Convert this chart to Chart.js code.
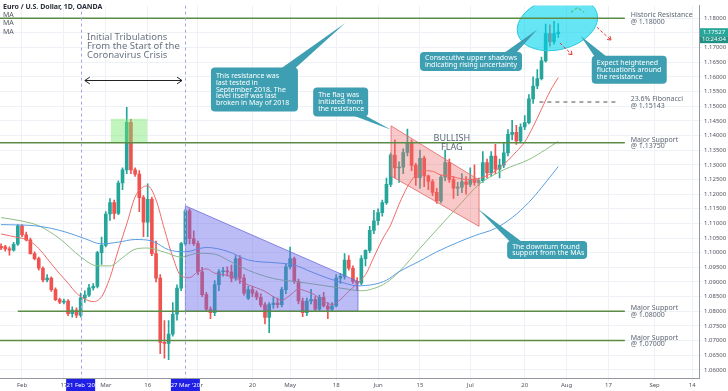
<!DOCTYPE html>
<html>
<head>
<meta charset="utf-8">
<script src="https://cdn.jsdelivr.net/npm/chart.js@4.4.1/dist/chart.umd.min.js"></script>
<style>
  html, body { margin: 0; padding: 0; background: #fff; }
  canvas { display: block; }
</style>
</head>
<body>
<canvas id="chart" width="728" height="391"></canvas>
<script>
// EUR/USD daily candles. Bar 0 = Mon 3 Feb 2020, one bar per trading day
const firstDay = -5;

const opens = [
  1.1022, 1.1020, 1.1013, 1.1009, 1.1029, 1.1092, 1.1061, 1.1044, 1.0997, 1.0980,
  1.0947, 1.0907, 1.0913, 1.0874, 1.0840, 1.0831, 1.0835, 1.0792, 1.0804, 1.0787,
  1.0846, 1.0855, 1.0880, 1.0885, 1.1000, 1.1025, 1.1132, 1.1171, 1.1134, 1.1238,
  1.1283, 1.1445, 1.1283, 1.1268, 1.1188, 1.1104, 1.1182, 1.0997, 1.0913, 1.0694,
  1.0690, 1.0722, 1.0790, 1.0879, 1.1031, 1.1143, 1.1048, 1.1031, 1.0935, 1.0857,
  1.0807, 1.0795, 1.0891, 1.0935, 1.0938, 1.0934, 1.0913, 1.0980, 1.0913, 1.0845,
  1.0874, 1.0862, 1.0848, 1.0822, 1.0779, 1.0823, 1.0828, 1.0823, 1.0874, 1.0952,
  1.0980, 1.0902, 1.0835, 1.0795, 1.0835, 1.0840, 1.0807, 1.0848, 1.0818, 1.0807,
  1.0818, 1.0913, 1.0919, 1.0975, 1.0947, 1.0902, 1.0896, 1.0980, 1.1008, 1.1076,
  1.1109, 1.1137, 1.1171, 1.1233, 1.1333, 1.1289, 1.1292, 1.1342, 1.1375, 1.1298,
  1.1256, 1.1322, 1.1262, 1.1243, 1.1206, 1.1177, 1.1258, 1.1308, 1.1250, 1.1220,
  1.1224, 1.1242, 1.1233, 1.1251, 1.1240, 1.1246, 1.1308, 1.1272, 1.1330, 1.1285,
  1.1299, 1.1341, 1.1404, 1.1411, 1.1382, 1.1429, 1.1444, 1.1525, 1.1569, 1.1594,
  1.1655, 1.1748, 1.1720, 1.1748
];
const highs = [
  1.1030, 1.1025, 1.1020, 1.1035, 1.1096, 1.1096, 1.1070, 1.1050, 1.1003, 1.0985,
  1.0952, 1.0925, 1.0918, 1.0880, 1.0845, 1.0842, 1.0840, 1.0815, 1.0812, 1.0862,
  1.0870, 1.0892, 1.0895, 1.1005, 1.1053, 1.1140, 1.1185, 1.1180, 1.1245, 1.1290,
  1.1496, 1.1455, 1.1290, 1.1280, 1.1195, 1.1235, 1.1190, 1.1040, 1.0925, 1.0768,
  1.0768, 1.0830, 1.0890, 1.1035, 1.1148, 1.1150, 1.1075, 1.1040, 1.0950, 1.0865,
  1.0815, 1.0905, 1.0942, 1.0950, 1.0952, 1.0958, 1.0990, 1.0990, 1.0925, 1.0885,
  1.0885, 1.0870, 1.0860, 1.0830, 1.0830, 1.0850, 1.0845, 1.0882, 1.0960, 1.1019,
  1.0985, 1.0910, 1.0845, 1.0845, 1.0875, 1.0850, 1.0855, 1.0865, 1.0830, 1.0830,
  1.0925, 1.0930, 1.0997, 1.0990, 1.0955, 1.0915, 1.0990, 1.1010, 1.1090, 1.1145,
  1.1150, 1.1180, 1.1255, 1.1340, 1.1385, 1.1310, 1.1355, 1.1422, 1.1385, 1.1305,
  1.1350, 1.1330, 1.1265, 1.1250, 1.1220, 1.1265, 1.1350, 1.1320, 1.1260, 1.1240,
  1.1270, 1.1260, 1.1290, 1.1300, 1.1255, 1.1345, 1.1320, 1.1345, 1.1370, 1.1320,
  1.1375, 1.1420, 1.1452, 1.1435, 1.1440, 1.1468, 1.1540, 1.1600, 1.1625, 1.1668,
  1.1780, 1.1778, 1.1790, 1.1782
];
const lows = [
  1.1010, 1.1005, 1.0992, 1.1005, 1.1025, 1.1055, 1.1040, 1.0995, 1.0975, 1.0940,
  1.0900, 1.0900, 1.0868, 1.0836, 1.0826, 1.0825, 1.0785, 1.0780, 1.0778, 1.0780,
  1.0830, 1.0850, 1.0872, 1.0880, 1.0960, 1.1020, 1.1110, 1.1115, 1.1130, 1.1215,
  1.1270, 1.1270, 1.1260, 1.1140, 1.1055, 1.1055, 1.0990, 1.0900, 1.0655, 1.0640,
  1.0635, 1.0715, 1.0770, 1.0870, 1.1025, 1.1030, 1.1025, 1.0925, 1.0850, 1.0800,
  1.0775, 1.0785, 1.0870, 1.0920, 1.0920, 1.0900, 1.0905, 1.0895, 1.0855, 1.0840,
  1.0850, 1.0840, 1.0815, 1.0757, 1.0727, 1.0810, 1.0812, 1.0815, 1.0860, 1.0945,
  1.0895, 1.0825, 1.0782, 1.0785, 1.0825, 1.0800, 1.0800, 1.0815, 1.0775, 1.0800,
  1.0815, 1.0895, 1.0910, 1.0940, 1.0895, 1.0870, 1.0890, 1.0955, 1.1000, 1.1065,
  1.1095, 1.1125, 1.1165, 1.1225, 1.1255, 1.1240, 1.1270, 1.1330, 1.1280, 1.1230,
  1.1220, 1.1225, 1.1215, 1.1195, 1.1168, 1.1170, 1.1245, 1.1240, 1.1185, 1.1195,
  1.1205, 1.1200, 1.1225, 1.1230, 1.1230, 1.1240, 1.1255, 1.1260, 1.1270, 1.1255,
  1.1290, 1.1330, 1.1385, 1.1370, 1.1375, 1.1420, 1.1440, 1.1510, 1.1560, 1.1590,
  1.1650, 1.1705, 1.1712, 1.1735
];
const closes = [
  1.1016, 1.1013, 1.1009, 1.1029, 1.1092, 1.1061, 1.1044, 1.0997, 1.0980, 1.0947,
  1.0907, 1.0913, 1.0874, 1.0840, 1.0831, 1.0835, 1.0792, 1.0804, 1.0787, 1.0846,
  1.0855, 1.0880, 1.0885, 1.1000, 1.1025, 1.1132, 1.1171, 1.1134, 1.1238, 1.1283,
  1.1445, 1.1283, 1.1268, 1.1188, 1.1104, 1.1182, 1.0997, 1.0913, 1.0694, 1.0690,
  1.0722, 1.0790, 1.0879, 1.1031, 1.1143, 1.1048, 1.1031, 1.0935, 1.0857, 1.0807,
  1.0795, 1.0891, 1.0935, 1.0938, 1.0934, 1.0913, 1.0980, 1.0913, 1.0862, 1.0874,
  1.0862, 1.0848, 1.0822, 1.0779, 1.0823, 1.0828, 1.0823, 1.0874, 1.0952, 1.0980,
  1.0902, 1.0835, 1.0795, 1.0835, 1.0840, 1.0807, 1.0848, 1.0818, 1.0807, 1.0818,
  1.0913, 1.0919, 1.0975, 1.0947, 1.0902, 1.0896, 1.0980, 1.1008, 1.1076, 1.1109,
  1.1137, 1.1171, 1.1233, 1.1333, 1.1289, 1.1292, 1.1342, 1.1375, 1.1298, 1.1256,
  1.1322, 1.1262, 1.1243, 1.1206, 1.1177, 1.1258, 1.1308, 1.1250, 1.1220, 1.1224,
  1.1242, 1.1233, 1.1251, 1.1240, 1.1246, 1.1308, 1.1272, 1.1330, 1.1285, 1.1299,
  1.1341, 1.1404, 1.1411, 1.1382, 1.1429, 1.1444, 1.1525, 1.1569, 1.1594, 1.1655,
  1.1748, 1.1720, 1.1748, 1.1753
];

// moving averages at these bars
const redMaDays = [-5, -3, -1, 1, 3, 5, 7, 9, 11, 13, 15, 17, 19, 21, 23, 25, 27, 29, 30, 32,
  34, 36, 38, 40, 42, 44, 46, 48, 50, 52, 54, 56, 58, 60, 62, 64, 66, 68, 70, 72,
  74, 76, 78, 80, 82, 84, 86, 88, 90, 92, 94, 96, 98, 100, 102, 104, 106, 108, 110, 112,
  114, 116, 118, 120, 122, 124, 126, 128];
const redMa = [1.1064, 1.1058, 1.1052, 1.1045, 1.1028, 1.0998, 1.0962, 1.0928, 1.0896, 1.0862,
  1.0842, 1.0833, 1.0850, 1.0915, 1.1010, 1.1098, 1.1190, 1.1225, 1.1228, 1.1180,
  1.1080, 1.0985, 1.0920, 1.0915, 1.0935, 1.0945, 1.0930, 1.0925, 1.0920, 1.0905,
  1.0890, 1.0880, 1.0868, 1.0850, 1.0838, 1.0855, 1.0875, 1.0868, 1.0855, 1.0835,
  1.0823, 1.0840, 1.0868, 1.0895, 1.0925, 1.0985, 1.1045, 1.1095, 1.1165, 1.1225,
  1.1265, 1.1280, 1.1278, 1.1265, 1.1262, 1.1255, 1.1250, 1.1250, 1.1258, 1.1270,
  1.1290, 1.1315, 1.1345, 1.1378, 1.1430, 1.1490, 1.1550, 1.1598];

const greenMaDays = [-5, 0, 4, 9, 14, 18, 21, 24, 27, 30, 34, 38, 42, 46, 50, 54, 60, 66, 72, 78,
  81, 84, 87, 90, 95, 101, 105, 109, 115, 121, 125, 128];
const greenMa = [1.1120, 1.1108, 1.1092, 1.1048, 1.0986, 1.0955, 1.0955, 1.0983, 1.1012, 1.1016,
  1.1002, 1.0985, 1.0998, 1.0995, 1.0968, 1.0940, 1.0912, 1.0900, 1.0888, 1.0875,
  1.0870, 1.0878, 1.0898, 1.0935, 1.1015, 1.1110, 1.1172, 1.1232, 1.1283, 1.1318,
  1.1352, 1.1380];

const blueMaDays = [-5, 3, 7, 11, 15, 19, 23, 27, 31, 35, 39, 44, 49, 54, 61, 65, 69, 73, 77, 80,
  84, 87, 90, 95, 99, 104, 108, 113, 117, 121, 124, 128];
const blueMa = [1.1096, 1.1092, 1.1083, 1.1068, 1.1048, 1.1030, 1.1036, 1.1045, 1.1040, 1.1010,
  1.1003, 1.1018, 1.1005, 1.0975, 1.0965, 1.0958, 1.0935, 1.0913, 1.0896, 1.0887,
  1.0892, 1.0906, 1.0935, 1.0972, 1.1003, 1.1035, 1.1058, 1.1083, 1.1120, 1.1172,
  1.1222, 1.1294];

const xTickDays = [0, 10, 20, 30, 42, 55, 64, 75, 85, 95, 107, 120, 130, 140, 151, 160];
const xTickLabels = ['Feb', '17', 'Mar', '16', 'Apr', '20', 'May', '18', 'Jun', '15', 'Jul', '20', 'Aug', '17', 'Sep', '14'];
const yTicks = [1.060, 1.065, 1.070, 1.075, 1.080, 1.085, 1.090, 1.095, 1.100, 1.105, 1.110, 1.115,
  1.120, 1.125, 1.130, 1.135, 1.140, 1.145, 1.150, 1.155, 1.160, 1.165, 1.170, 1.175, 1.180];

const lastPrice = 1.17527;

const UP = '#26a69a';
const DOWN = '#ef5350';
const FONT = '"Noto Sans", "DejaVu Sans", sans-serif';

const candleColors = opens.map((o, k) => closes[k] >= o ? UP : DOWN);
const wicks = highs.map((h, k) => ({ x: firstDay + k, y: [lows[k], h] }));
const bodies = opens.map((o, k) => ({ x: firstDay + k, y: [o, closes[k]] }));
const points = (days, vals) => days.map((d, k) => ({ x: d, y: vals[k] }));

// drawings on top of the chart
const levels = [
  { price: 1.18, from: -6, lines: ['Historic Resistance', '@ 1.18000'] },
  { price: 1.1375, from: -6, lines: ['Major Support', '@ 1.13750'] },
  { price: 1.08, from: -1, lines: ['Major Support', '@ 1.08000'] },
  { price: 1.07, from: -6, lines: ['Major Support', '@ 1.07000'] }
];

const callouts = [
  { day: 45.1, price: 1.1632, w: 87, h: 44, edge: 'top', at: [70, 84], tip: [77.1, 1.1783],
    lines: ['This resistance was', 'last tested in', 'September 2018. The', 'level itself was last', 'broken in May of 2018'] },
  { day: 69.5, price: 1.1564, w: 55, h: 29, edge: 'bottom', at: [40, 52], tip: [88.1, 1.1420],
    lines: ['The flag was', 'initiated from', 'the resistance'] },
  { day: 95, price: 1.1685, w: 102, h: 19, edge: 'top', at: [84, 96], tip: [123, 1.1762],
    lines: ['Consecutive upper shadows', 'indicating rising uncertainty'] },
  { day: 136, price: 1.1672, w: 75, h: 28, edge: 'top', at: [3, 15], tip: [133.4, 1.1739],
    lines: ['Expect heightened', 'fluctuations around', 'the resistance'] },
  { day: 115.8, price: 1.1040, w: 80, h: 18, edge: 'top', at: [3, 15], tip: [108.8, 1.1150],
    lines: ['The downturn found', 'support from the MAs'] }
];

function arrowHead(ctx, x1, y1, x2, y2, size) {
  const a = Math.atan2(y2 - y1, x2 - x1);
  ctx.beginPath();
  ctx.moveTo(x2 - size * Math.cos(a - 0.6), y2 - size * Math.sin(a - 0.6));
  ctx.lineTo(x2, y2);
  ctx.lineTo(x2 - size * Math.cos(a + 0.6), y2 - size * Math.sin(a + 0.6));
  ctx.stroke();
}

const notes = {
  id: 'notes',
  afterDraw(chart) {
    const { ctx, chartArea: area, scales } = chart;
    const X = v => scales.x.getPixelForValue(v);
    const Y = v => scales.y.getPixelForValue(v);

    ctx.save();
    ctx.beginPath();
    ctx.rect(area.left, area.top, area.width, area.height);
    ctx.clip();

    // descending triangle
    ctx.beginPath();
    ctx.moveTo(X(39), Y(1.1160));
    ctx.lineTo(X(80.2), Y(1.0902));
    ctx.lineTo(X(80.2), Y(1.0800));
    ctx.lineTo(X(39), Y(1.0800));
    ctx.closePath();
    ctx.fillStyle = 'rgba(104, 104, 232, 0.45)';
    ctx.fill();
    ctx.strokeStyle = 'rgba(110, 110, 220, 0.8)';
    ctx.lineWidth = 1;
    ctx.stroke();

    // bullish flag channel
    ctx.beginPath();
    ctx.moveTo(X(88.1), Y(1.1433));
    ctx.lineTo(X(109.1), Y(1.1248));
    ctx.lineTo(X(109.1), Y(1.1090));
    ctx.lineTo(X(88.1), Y(1.1262));
    ctx.closePath();
    ctx.fillStyle = 'rgba(240, 110, 110, 0.38)';
    ctx.fill();
    ctx.strokeStyle = 'rgba(229, 115, 115, 0.9)';
    ctx.stroke();

    // March top highlight
    ctx.fillStyle = 'rgba(120, 232, 110, 0.45)';
    ctx.fillRect(X(21.2), Y(1.1457), X(29.9) - X(21.2), Y(1.1375) - Y(1.1457));

    // ellipse round the last candles
    ctx.beginPath();
    ctx.ellipse(X(127.8), Y(1.1782), 41, 26, -0.25, 0, Math.PI * 2);
    ctx.fillStyle = 'rgba(0, 212, 238, 0.6)';
    ctx.fill();
    ctx.strokeStyle = '#2cc9dc';
    ctx.stroke();

    // price levels
    ctx.strokeStyle = '#5b8c46';
    ctx.lineWidth = 1.5;
    levels.forEach(l => {
      ctx.beginPath();
      ctx.moveTo(X(l.from), Y(l.price));
      ctx.lineTo(X(143.9), Y(l.price));
      ctx.stroke();
    });

    // fibonacci level
    ctx.strokeStyle = '#8a8a8a';
    ctx.setLineDash([4, 4]);
    ctx.beginPath();
    ctx.moveTo(X(123.5), Y(1.15143));
    ctx.lineTo(X(142.6), Y(1.15143));
    ctx.stroke();

    // red dashed arrows out of the ellipse
    ctx.strokeStyle = '#e53935';
    ctx.lineWidth = 1;
    ctx.setLineDash([3, 2]);
    [[128.4, 1.1716, 131.3, 1.1676], [137.2, 1.1770, 140.6, 1.1726]].forEach(a => {
      ctx.beginPath();
      ctx.moveTo(X(a[0]), Y(a[1]));
      ctx.lineTo(X(a[2]), Y(a[3]));
      ctx.stroke();
      ctx.setLineDash([]);
      arrowHead(ctx, X(a[0]), Y(a[1]), X(a[2]), Y(a[3]), 4);
      ctx.setLineDash([3, 2]);
    });
    ctx.strokeStyle = '#4caf50';
    ctx.beginPath();
    ctx.moveTo(X(131), Y(1.1820));
    ctx.lineTo(X(132.6), Y(1.1837));
    ctx.lineTo(X(134.2), Y(1.1820));
    ctx.stroke();

    // date markers
    ctx.strokeStyle = '#a3a3e6';
    ctx.setLineDash([3, 3]);
    [14, 39].forEach(d => {
      ctx.beginPath();
      ctx.moveTo(Math.round(X(d)) + 0.5, area.top);
      ctx.lineTo(Math.round(X(d)) + 0.5, area.bottom);
      ctx.stroke();
    });
    ctx.setLineDash([]);
    ctx.restore();

    ctx.save();
    ctx.textBaseline = 'middle';

    // double arrow over the crisis period
    const ay = Math.round(Y(1.1591)) + 0.5;
    ctx.strokeStyle = '#222';
    ctx.lineWidth = 1;
    ctx.beginPath();
    ctx.moveTo(X(15), ay);
    ctx.lineTo(X(38.2), ay);
    ctx.stroke();
    arrowHead(ctx, X(16), ay, X(15), ay, 6);
    arrowHead(ctx, X(37), ay, X(38.2), ay, 6);

    ctx.fillStyle = '#6a7482';
    ctx.font = '9.5px ' + FONT;
    ['Initial Tribulations', 'From the Start of the', 'Coronavirus Crisis'].forEach((t, k) => {
      ctx.fillText(t, X(15.5), Y(1.1737) + k * 9.3);
    });

    ctx.fillStyle = '#5b6675';
    ctx.font = '9px ' + FONT;
    ctx.textAlign = 'center';
    ctx.fillText('BULLISH', X(102.6), Y(1.1389));
    ctx.fillText('FLAG', X(102.6), Y(1.1389) + 9);
    ctx.textAlign = 'left';

    // level labels
    ctx.fillStyle = '#5d6673';
    ctx.font = '7px ' + FONT;
    levels.concat([{ price: 1.15143, lines: ['23.6% Fibonacci', '@ 1.15143'] }]).forEach(l => {
      ctx.fillText(l.lines[0], X(145.3), Y(l.price) - 3);
      ctx.fillText(l.lines[1], X(145.3), Y(l.price) + 3.5);
    });

    // callouts
    callouts.forEach(c => {
      const left = X(c.day), top = Y(c.price);
      const ey = c.edge === 'top' ? top + 1 : top + c.h - 1;
      ctx.fillStyle = '#3d9fb1';
      ctx.beginPath();
      ctx.moveTo(left + c.at[0], ey);
      ctx.lineTo(X(c.tip[0]), Y(c.tip[1]));
      ctx.lineTo(left + c.at[1], ey);
      ctx.closePath();
      ctx.fill();
      ctx.beginPath();
      ctx.roundRect(left, top, c.w, c.h, 4);
      ctx.fill();
      ctx.fillStyle = '#fff';
      ctx.font = '7px ' + FONT;
      const step = 6.7;
      const y0 = top + (c.h - c.lines.length * step) / 2 + step / 2;
      c.lines.forEach((t, k) => ctx.fillText(t, left + 5, y0 + k * step));
    });

    // axis date boxes
    ctx.font = '6px ' + FONT;
    ctx.textAlign = 'center';
    [[14, "21 Feb '20"], [39, "27 Mar '20"]].forEach(([d, t]) => {
      ctx.fillStyle = '#1f1fe6';
      ctx.fillRect(X(d) - 14.5, area.bottom + 1, 29, 12);
      ctx.fillStyle = '#fff';
      ctx.fillText(t, X(d), area.bottom + 7);
    });

    // last price tag
    const py = Y(lastPrice);
    ctx.fillStyle = '#26a69a';
    ctx.fillRect(area.right + 1, py - 4, 28, 8);
    ctx.fillStyle = '#1f9184';
    ctx.fillRect(area.right + 1, py + 4, 28, 7);
    ctx.fillStyle = '#fff';
    ctx.fillText(lastPrice.toFixed(5), area.right + 15, py);
    ctx.fillText('10:24:04', area.right + 15, py + 7.5);

    // legend
    ctx.textAlign = 'left';
    ctx.fillStyle = '#2a2e39';
    ctx.font = 'bold 7px ' + FONT;
    ctx.fillText('Euro / U.S. Dollar, 1D, OANDA', 3, 7);
    ctx.font = '7px ' + FONT;
    ctx.fillStyle = '#555b66';
    ['MA', 'MA', 'MA'].forEach((t, k) => ctx.fillText(t, 3, 15 + k * 8.3));
    ctx.restore();
  }
};

const maLine = (days, vals, color) => ({
  type: 'line',
  data: points(days, vals),
  borderColor: color,
  borderWidth: 1,
  pointRadius: 0,
  tension: 0.4,
  cubicInterpolationMode: 'monotone',
  order: 0
});

Chart.defaults.font.family = FONT;

new Chart(document.getElementById('chart'), {
  type: 'bar',
  data: {
    datasets: [
      maLine(blueMaDays, blueMa, '#5a9ee0'),
      maLine(greenMaDays, greenMa, '#8cbf82'),
      maLine(redMaDays, redMa, '#ef6b68'),
      { data: wicks, backgroundColor: candleColors, barThickness: 1, grouped: false, order: 2 },
      { data: bodies, backgroundColor: candleColors, barThickness: 3, minBarLength: 1, grouped: false, order: 1 }
    ]
  },
  options: {
    responsive: false,
    animation: false,
    devicePixelRatio: 1,
    layout: { padding: 0 },
    plugins: { legend: { display: false }, tooltip: { enabled: false } },
    scales: {
      x: {
        type: 'linear',
        min: -5.25,
        max: 161.6,
        offset: false,
        grid: { color: '#eef1f6', offset: false, tickLength: 3 },
        border: { color: '#9598a1' },
        ticks: {
          color: '#50535e',
          font: { size: 6 },
          padding: 1,
          maxRotation: 0,
          autoSkip: false,
          callback: v => {
            const k = xTickDays.indexOf(v);
            return k >= 0 ? xTickLabels[k] : '';
          }
        },
        afterBuildTicks: s => { s.ticks = xTickDays.map(v => ({ value: v })); },
        afterFit: s => { s.height = 13; }
      },
      y: {
        position: 'right',
        min: 1.05723,
        max: 1.18435,
        grid: { color: '#eef1f6', tickLength: 3 },
        border: { color: '#9598a1' },
        ticks: {
          color: '#50535e',
          font: { size: 6 },
          padding: 2,
          callback: v => v.toFixed(5)
        },
        afterBuildTicks: s => { s.ticks = yTicks.map(v => ({ value: v })); },
        afterFit: s => { s.width = 29; }
      }
    }
  },
  plugins: [notes]
});
</script>
</body>
</html>
